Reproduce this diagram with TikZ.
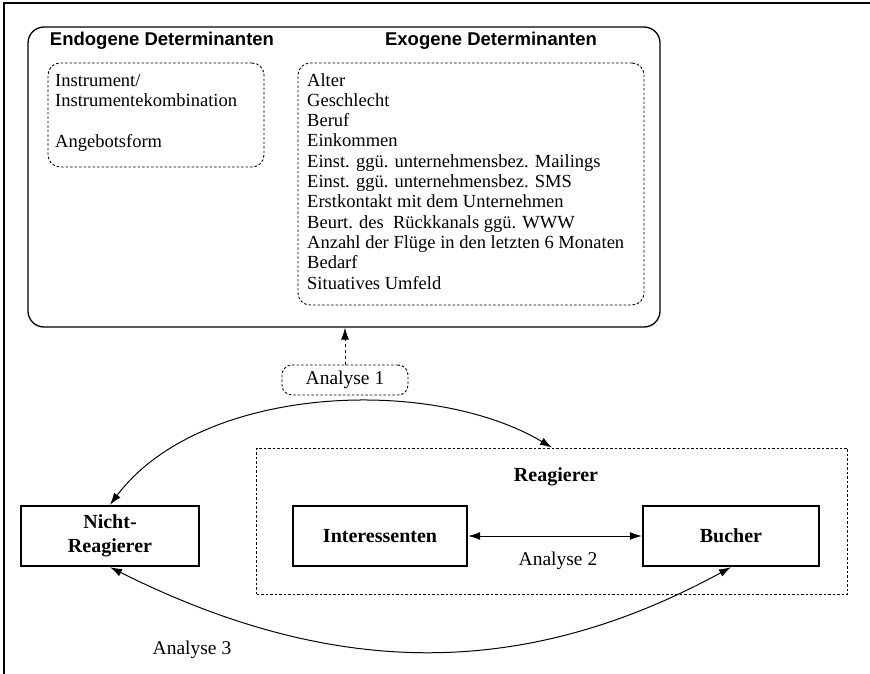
\documentclass[tikz,border=0pt]{standalone}
\usepackage{fontspec}
\setmainfont{Liberation Serif}
\newfontfamily\headfont{Liberation Sans}
\usetikzlibrary{arrows.meta}

\begin{document}
\begin{tikzpicture}[x=1pt, y=-1pt, >={Latex[length=12pt,width=8pt]}]
        \tikzstyle{every node}=[font=\fontsize{18.5}{20.3}\selectfont, inner sep=0pt]
        \tikzstyle{groupbox}=[draw, line width=1.3pt, rounded corners=16pt]
        \tikzstyle{dotbox}=[draw, dash pattern=on 2.5pt off 2pt, line width=0.9pt, rounded corners=12pt]
        \tikzstyle{actor}=[draw, line width=2.4pt, minimum height=60pt, align=center, font=\fontsize{20}{24}\selectfont\bfseries]
        \tikzstyle{headline}=[font=\headfont\fontsize{18.5}{22}\selectfont\bfseries]
        \tikzstyle{analysis}=[font=\fontsize{19.5}{22}\selectfont]
        \tikzstyle{link}=[line width=1pt, <->]

% frame round the whole figure
        \useasboundingbox (0,0) rectangle (870,674);
        \coordinate (frameBL) at (4,674);
        \coordinate (frameTL) at (4,3);
        \coordinate (frameTR) at (870,3);
        \draw[line width=1.2pt] (frameBL) -- (frameTL) -- (frameTR);

% determinants
        \node[groupbox, minimum width=632pt, minimum height=300pt] (determ) at (344,177) {};
        \node[headline] (endo) at (162,41) {Endogene Determinanten};
        \node[headline] (exo) at (491,41) {Exogene Determinanten};
        \node[dotbox, minimum width=216pt, minimum height=104pt] (endobox) at (156,115) {};
        \node[dotbox, minimum width=346pt, minimum height=242pt] (exobox) at (471,184) {};
        \node[anchor=north west, align=left] (endolist) at (55,74) {Instrument/\\Instrumentekombination\\[20.3pt]Angebotsform};
        \node[anchor=north west, align=left] (exolist) at (307,73) {Alter\\Geschlecht\\Beruf\\Einkommen\\Einst. ggü. unternehmensbez. Mailings\\Einst. ggü. unternehmensbez. SMS\\Erstkontakt mit dem Unternehmen\\Beurt. des~ Rückkanals ggü. WWW\\Anzahl der Flüge in den letzten 6 Monaten\\Bedarf\\Situatives Umfeld};

% analysis 1
        \node[dotbox, analysis, rounded corners=10pt, minimum width=126pt, minimum height=30pt] (ana1) at (345,380) {Analyse 1};
        \draw[->, dashed, line width=0.9pt] (ana1) -- (ana1 |- determ.south);

% reagierer and nicht-reagierer
        \node[draw, dash pattern=on 2.5pt off 2pt, line width=0.9pt, minimum width=591pt, minimum height=146pt] (reag) at (552,521) {};
        \node[font=\fontsize{20}{24}\selectfont\bfseries] (reaglabel) at (556,477) {Reagierer};
        \node[actor, minimum width=178pt] (nicht) at (110,536) {Nicht-\\Reagierer};
        \node[actor, minimum width=174pt] (inter) at (380,536) {Interessenten};
        \node[actor, minimum width=176pt] (bucher) at (731,536) {Bucher};
        \draw[link] (inter) -- (bucher);
        \node[analysis] (ana2) at (558,561) {Analyse 2};
        \node[analysis] (ana3) at (192,650) {Analyse 3};

        \draw[link] (nicht.north) .. controls (200,385) and (430,375) .. (reag.north);
        \draw[link] (nicht.south) .. controls (330,677) and (520,682) .. (bucher.south);

    \end{tikzpicture}
\end{document}
